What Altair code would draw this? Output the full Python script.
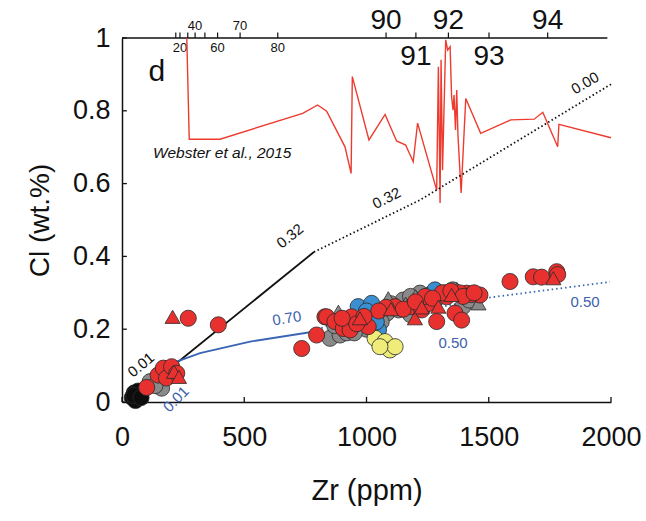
import altair as alt
import pandas as pd

FONT = "Liberation Sans"

# ---------------- data ----------------
webster_zr = [265, 275, 401, 739, 800, 837, 912, 937, 942, 1010, 1076, 1123, 1160, 1191, 1209,
              1287, 1294, 1301, 1305, 1311, 1324, 1332, 1342, 1348, 1354, 1358, 1364, 1369, 1374,
              1387, 1406, 1467, 1590, 1686, 1721, 1782, 1787, 2000]
webster_cl = [1.0, 0.722, 0.722, 0.793, 0.816, 0.799, 0.701, 0.628, 0.894, 0.720, 0.790, 0.717, 0.706, 0.660, 0.766,
              0.582, 0.921, 0.547, 0.940, 0.637, 0.995, 0.967, 0.976, 0.839, 0.802, 0.843, 0.747, 0.857, 0.734,
              0.574, 0.834, 0.738, 0.775, 0.777, 0.796, 0.701, 0.763, 0.726]

black_solid_zr = [100, 785]
black_solid_cl = [0.040, 0.412]
black_dot_zr = [785, 1219, 2000]
black_dot_cl = [0.412, 0.555, 0.873]

blue_solid_zr = [101, 224, 319, 524, 782]
blue_solid_cl = [0.038, 0.111, 0.134, 0.166, 0.193]
blue_dot_zr = [782, 863, 1137, 1492, 1996]
blue_dot_cl = [0.193, 0.217, 0.239, 0.286, 0.330]

black_c_zr = [42, 50, 60, 72, 55, 66, 48, 78]
black_c_cl = [0.012, 0.025, 0.010, 0.020, 0.004, 0.030, 0.018, 0.012]

gray_c_zr = [115, 162, 135, 851, 892, 1014, 1083, 1131, 1219, 1226, 1353, 1394, 960, 1000, 1150, 1180,
             1260, 1300, 1320, 1420, 870, 920, 1060, 1100, 1280, 1180, 950, 1040]
gray_c_cl = [0.056, 0.038, 0.045, 0.175, 0.184, 0.239, 0.244, 0.253, 0.299, 0.269, 0.308, 0.262, 0.220, 0.200,
             0.280, 0.290, 0.295, 0.290, 0.300, 0.280, 0.210, 0.190, 0.220, 0.270, 0.280, 0.240, 0.190, 0.190]
gray_t_zr = [885, 1089, 1458, 1240, 1200, 1160, 1335, 1370]
gray_t_cl = [0.248, 0.285, 0.271, 0.275, 0.290, 0.270, 0.296, 0.310]

blue_c_zr = [966, 1021, 1049, 1280, 1000, 1040]
blue_c_cl = [0.262, 0.271, 0.198, 0.308, 0.250, 0.220]

yellow_c_zr = [1035, 1076, 1096, 1117, 1055]
yellow_c_cl = [0.175, 0.166, 0.143, 0.152, 0.152]

red_c_zr = [101, 148, 169, 182, 203, 224, 271, 394, 735, 796, 830, 837, 871, 905, 933, 939, 1007, 1117,
            1185, 1226, 1287, 1328, 1362, 1389, 1410, 1464, 1587, 1682, 1716, 1778, 1782, 1250, 1310,
            1380, 1430, 1150, 1080, 960, 1240, 1270, 1345, 1395, 1440, 1200, 1050, 900, 990]
red_c_cl = [0.040, 0.074, 0.093, 0.066, 0.097, 0.079, 0.230, 0.212, 0.147, 0.184, 0.234, 0.234, 0.221, 0.202,
            0.198, 0.234, 0.207, 0.262, 0.262, 0.253, 0.221, 0.289, 0.244, 0.225, 0.299, 0.294, 0.331, 0.344,
            0.343, 0.358, 0.350, 0.270, 0.300, 0.300, 0.295, 0.255, 0.260, 0.215, 0.290, 0.285, 0.305, 0.290,
            0.300, 0.275, 0.250, 0.230, 0.235]
red_t_zr = [207, 213, 233, 973, 1198, 1226, 1294, 1348, 1764, 1100]
red_t_cl = [0.234, 0.083, 0.069, 0.230, 0.230, 0.260, 0.262, 0.294, 0.340, 0.255]

# line annotations
ann_text = ["0.01", "0.01", "0.32", "0.32", "0.00", "0.70", "0.50", "0.50"]
ann_zr = [78, 221, 687, 1082, 1894, 674, 1354, 1894]
ann_cl = [0.102, 0.008, 0.456, 0.560, 0.876, 0.230, 0.163, 0.276]
ann_angle = [320, 315, 321, 333, 330, 351, 0, 0]
ann_color = ["#111111", "#3d5fae", "#111111", "#111111", "#111111", "#3d5fae", "#3d5fae", "#3d5fae"]

# top (secondary) axis
top_tick_zr = [220, 237, 269, 299, 339, 391, 483, 637, 1080, 1202, 1335, 1501, 1741]
top_lab_text = ["20", "40", "60", "70", "80", "90", "91", "92", "93", "94"]
top_lab_zr = [237, 299, 391, 483, 637, 1080, 1202, 1335, 1501, 1741]
top_lab_cl = [0.973, 1.033, 0.973, 1.033, 0.973, 1.046, 0.949, 1.046, 0.949, 1.046]
top_lab_size = [13, 13, 13, 13, 13, 28, 28, 28, 28, 28]

x_ticks = [0, 500, 1000, 1500, 2000]
y_ticks = [0, 0.2, 0.4, 0.6, 0.8, 1.0]

# ---------------- chart ----------------
W, H = 489, 364
xs = alt.Scale(domain=[0, 2000], nice=False, zero=False)
ys = alt.Scale(domain=[0, 1], nice=False, zero=False)

xaxis = alt.Axis(values=x_ticks, format="d", ticks=False, grid=False, domain=True, domainColor="#111",
                 domainWidth=1.5, labelFont=FONT, labelFontSize=27, labelColor="#111", labelFlush=False,
                 labelPadding=22, title="Zr (ppm)", titleFont=FONT, titleFontSize=29,
                 titleFontWeight="normal", titleColor="#111", titleY=88, titleBaseline="middle")
yaxis = alt.Axis(values=y_ticks, format="~g", ticks=False, grid=False, domain=True, domainColor="#111",
                 domainWidth=1.5, labelFont=FONT, labelFontSize=27, labelColor="#111", labelFlush=False,
                 labelPadding=12, title="Cl (wt.%)", titleFont=FONT, titleFontSize=28,
                 titleFontWeight="normal", titleColor="#111", titleX=-82, titleY=H / 2,
                 titleBaseline="middle", titleAngle=270)


def X(f):
    return alt.X(f, scale=xs, axis=xaxis)


def Y(f):
    return alt.Y(f, scale=ys, axis=yaxis)


# inward x ticks
xt = pd.DataFrame({"x": x_ticks, "y0": [0] * 5, "y1": [0.014] * 5})
base = alt.Chart(xt).mark_rule(color="#111", strokeWidth=1.3).encode(
    x=X("x:Q"), y=Y("y0:Q"), y2="y1:Q")
yt = pd.DataFrame({"y": y_ticks, "x0": [0] * 6, "x1": [20] * 6})
ytick = alt.Chart(yt).mark_rule(color="#111", strokeWidth=1.3).encode(
    x=X("x0:Q"), x2="x1:Q", y=Y("y:Q"))

# top axis
topline = alt.Chart(pd.DataFrame({"x0": [0], "x1": [1985], "y": [1.0]})).mark_rule(
    color="#111", strokeWidth=1.5).encode(x=X("x0:Q"), x2="x1:Q", y=Y("y:Q"))
tt = pd.DataFrame({"x": top_tick_zr, "y0": [1.0] * len(top_tick_zr), "y1": [1.015] * len(top_tick_zr)})
topticks = alt.Chart(tt).mark_rule(color="#111", strokeWidth=1.2).encode(
    x=X("x:Q"), y=Y("y0:Q"), y2="y1:Q")
tl = pd.DataFrame({"x": top_lab_zr, "y": top_lab_cl, "t": top_lab_text, "s": top_lab_size})
toplabels = alt.Chart(tl).mark_text(font=FONT, color="#111", baseline="middle", align="center").encode(
    x=X("x:Q"), y=Y("y:Q"), text="t:N", size=alt.Size("s:Q", scale=None, legend=None))


def line(zr, cl, color, dash=None, width=1.6):
    kw = dict(color=color, strokeWidth=width)
    if dash:
        kw["strokeDash"] = dash
    df = pd.DataFrame({"x": zr, "y": cl, "o": list(range(len(zr)))})
    return alt.Chart(df).mark_line(**kw).encode(x=X("x:Q"), y=Y("y:Q"), order="o:Q")


webster = line(webster_zr, webster_cl, "#ee3b2f", width=1.4)
bsolid = line(black_solid_zr, black_solid_cl, "#111111", width=1.8)
bdot = line(black_dot_zr, black_dot_cl, "#111111", dash=[1.5, 2.5], width=1.8)
usolid = line(blue_solid_zr, blue_solid_cl, "#3a65b5", width=1.8)
udot = line(blue_dot_zr, blue_dot_cl, "#3a65b5", dash=[1.5, 3], width=1.8)


def pts(zr, cl, fill, shape="circle", size=260):
    df = pd.DataFrame({"x": zr, "y": cl})
    return alt.Chart(df).mark_point(shape=shape, filled=True, fill=fill, stroke="#2a2a2a",
                                    strokeWidth=0.8, opacity=1, size=size).encode(
        x=X("x:Q"), y=Y("y:Q"))


p_black = pts(black_c_zr, black_c_cl, "#0d0d0d")
p_grayc = pts(gray_c_zr, gray_c_cl, "#8a8a8a")
p_grayt = pts(gray_t_zr, gray_t_cl, "#8a8a8a", shape="triangle-up", size=230)
p_blue = pts(blue_c_zr, blue_c_cl, "#3a8fd0")
p_yel = pts(yellow_c_zr, yellow_c_cl, "#efec7a")
p_redc = pts(red_c_zr, red_c_cl, "#e8312f")
p_redt = pts(red_t_zr, red_t_cl, "#e8312f", shape="triangle-up", size=230)

ann = pd.DataFrame({"x": ann_zr, "y": ann_cl, "t": ann_text, "a": ann_angle, "c": ann_color})
anns = alt.Chart(ann).mark_text(font=FONT, fontSize=15, baseline="middle", align="center").encode(
    x=X("x:Q"), y=Y("y:Q"), text="t:N",
    angle=alt.Angle("a:Q", scale=None), color=alt.Color("c:N", scale=None, legend=None))

dlab = alt.Chart(pd.DataFrame({"x": [143], "y": [0.907], "t": ["d"]})).mark_text(
    font=FONT, fontSize=30, color="#111", baseline="middle", align="center").encode(
    x=X("x:Q"), y=Y("y:Q"), text="t:N")
wlab = alt.Chart(pd.DataFrame({"x": [127], "y": [0.685], "t": ["Webster et al., 2015"]})).mark_text(
    font=FONT, fontSize=15.5, fontStyle="italic", color="#111", baseline="middle", align="left").encode(
    x=X("x:Q"), y=Y("y:Q"), text="t:N")

chart = alt.layer(
    base, ytick, topline, topticks, toplabels, webster, bsolid, bdot, usolid, udot,
    p_black, p_grayc, p_grayt, p_blue, p_yel, p_redc, p_redt, anns, dlab, wlab
).properties(
    width=W, height=H,
    padding={"left": 122, "top": 38, "right": 35, "bottom": 119},
    autosize=alt.AutoSizeParams(type="none"),
).configure_view(stroke=None)

chart.save("out.html", embed_options={"renderer": "svg", "actions": False})
